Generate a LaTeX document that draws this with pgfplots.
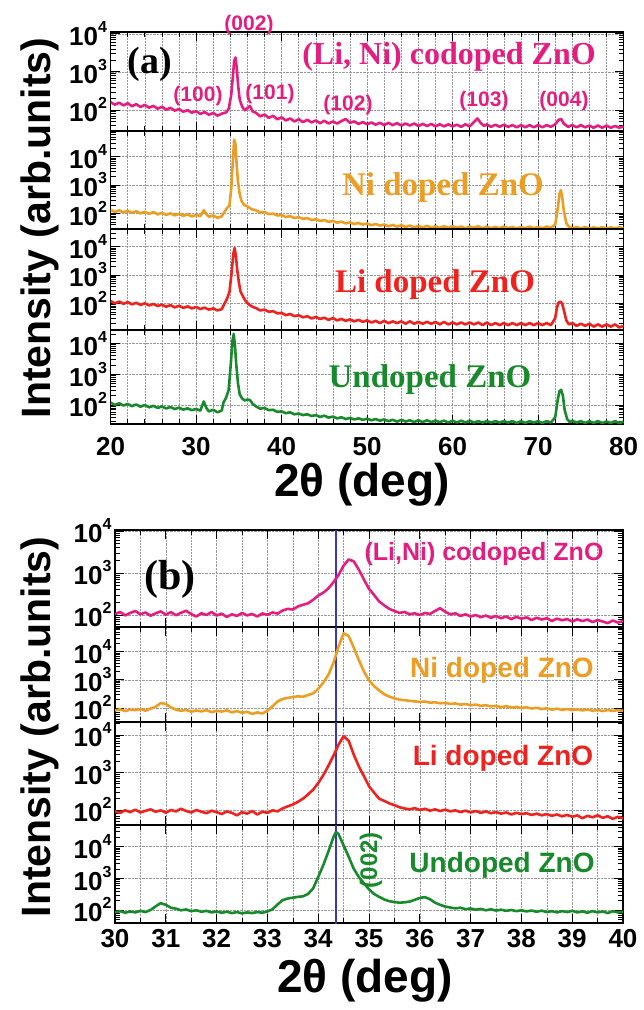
\documentclass[border=0pt]{standalone}
\usepackage{fontspec}
\setmainfont{Liberation Serif}
\setsansfont{Liberation Sans}
\usepackage{pgfplots}
\pgfplotsset{compat=1.18}

\definecolor{cmag}{RGB}{228,30,128}
\definecolor{corg}{RGB}{236,158,36}
\definecolor{cred}{RGB}{238,34,30}
\definecolor{cgrn}{RGB}{24,138,44}
\definecolor{cblu}{RGB}{55,55,190}

\newcommand\ticksf{\fontsize{26}{26}\selectfont\sffamily\bfseries}
\newcommand\expo[1]{\raisebox{0.5em}{\fontsize{16}{16}\selectfont #1}}

\pgfplotsset{
  xrdbase/.style={
    scale only axis, anchor=north west,
    axis line style={line width=1.1pt},
    tick align=inside, xtick pos=both, ytick pos=both,
    major tick length=9pt, minor tick length=5pt,
    tick style={black, line width=0.9pt},
    minor tick style={line width=0.6pt},
    xmajorgrids, xminorgrids, ymajorgrids,
    grid style={densely dotted, gray!80, line width=0.5pt},
    minor grid style={densely dotted, gray!80, line width=0.5pt},
    ytick={100,1000,10000},
    yticklabels={10\expo{2},10\expo{3},10\expo{4}},
    minor ytick={20,30,40,50,60,70,80,90,200,300,400,500,600,700,800,900,2000,3000,4000,5000,6000,7000,8000,9000,20000,30000,40000,50000,60000,70000,80000,90000},
    yticklabel style={font=\ticksf},
    xticklabel style={font=\ticksf},
    /pgf/number format/assume math mode=true,
  },
  panela/.style={xrdbase, width=513pt, xmin=20, xmax=80, xtick={20,30,...,80}, minor x tick num=4},
  panelb/.style={xrdbase, width=508pt, xmin=30, xmax=40, xtick={30,31,...,40}, minor x tick num=1},
  noxlab/.style={xticklabels={}},
}
\tikzset{trace/.style={line width=2.6pt, line join=round}}

\begin{document}
\begin{tikzpicture}[x=1pt,y=1pt]
\useasboundingbox (0,0) rectangle (643,-1010);

% ---------------- panel (a) ----------------
\begin{axis}[ymode=log, panela, noxlab, at={(110.6pt,-32pt)}, height=99pt, ymin=28, ymax=11200]
\addplot[trace, cmag] coordinates {
(20,160) (20.5,138) (21,155) (21.5,132) (22,150) (22.5,126) (23,142) (23.5,120) (24,136) (24.5,115)
(25,128) (25.5,108) (26,121) (26.5,102) (27,114) (27.5,96) (28,106) (28.5,90) (29,99) (29.5,85)
(30,93) (30.5,79) (31,88) (31.5,75) (32,83) (32.5,71) (33,80) (33.5,86) (33.8,105) (34.1,240)
(34.3,750) (34.45,1900) (34.6,2400) (34.75,1300) (34.9,480) (35.1,190) (35.4,120) (35.7,98) (36.0,112) (36.3,128)
(36.6,92) (37,84) (37.5,68) (38,76) (38.5,62) (39,70) (39.5,57) (40,64) (40.5,53) (41,60)
(41.5,50) (42,57) (42.5,48) (43,55) (43.5,47) (44,53) (44.5,45) (45,52) (45.5,44) (46,50)
(46.5,44) (47,51) (47.5,58) (48,46) (48.5,50) (49,43) (49.5,48) (50,42) (50.5,47) (51,41)
(51.5,46) (52,40) (52.5,46) (53,40) (53.5,45) (54,39) (54.5,44) (55,39) (55.5,44) (56,38)
(56.5,43) (57,38) (57.5,43) (58,37) (58.5,42) (59,37) (59.5,42) (60,37) (60.5,41) (61,36)
(61.5,42) (62,37) (62.5,48) (62.9,60) (63.3,45) (63.7,38) (64,42) (64.5,36) (65,41) (65.5,36)
(66,41) (66.5,36) (67,40) (67.5,35) (68,40) (68.5,35) (69,40) (69.5,35) (70,40) (70.5,35)
(71,40) (71.5,36) (72,42) (72.4,55) (72.7,58) (73.0,44) (73.5,36) (74,40) (74.5,35) (75,40)
(75.5,35) (76,39) (76.5,34) (77,39) (77.5,34) (78,39) (78.5,34) (79,38) (79.5,34) (80,37)};
\end{axis}

\begin{axis}[ymode=log, panela, noxlab, at={(110.6pt,-131pt)}, height=98pt, ymin=28, ymax=81000]
\addplot[trace, corg] coordinates {
(20,135) (20.5,112) (21,128) (21.5,108) (22,124) (22.5,104) (23,118) (23.5,100) (24,114) (24.5,96)
(25,110) (25.5,92) (26,104) (26.5,88) (27,100) (27.5,85) (28,96) (28.5,82) (29,92) (29.5,78)
(30,88) (30.5,80) (30.9,130) (31.2,95) (31.5,76) (32,84) (32.5,70) (33,78) (33.3,110) (33.6,150)
(33.9,190) (34.1,700) (34.3,7000) (34.45,40000) (34.6,28000) (34.75,5000) (34.9,1300) (35.1,480) (35.3,280) (35.6,200)
(36,175) (36.5,140) (37,128) (37.5,108) (38,112) (38.5,94) (39,98) (39.5,84) (40,88) (40.5,74)
(41,80) (41.5,68) (42,74) (42.5,64) (43,68) (43.5,58) (44,62) (44.5,54) (45,58) (45.5,50)
(46,54) (46.5,47) (47,51) (47.5,44) (48,48) (48.5,42) (49,46) (49.5,40) (50,44) (50.5,38)
(51,42) (51.5,37) (52,40) (52.5,35) (53,39) (53.5,34) (54,38) (54.5,33) (55,37) (55.5,32)
(56,36) (56.5,32) (57,36) (57.5,31) (58,35) (58.5,31) (59,35) (59.5,31) (60,35) (60.5,31)
(61,34) (61.5,30) (62,34) (62.5,31) (63,35) (63.5,30) (64,34) (64.5,30) (65,33) (65.5,30)
(66,34) (66.5,30) (67,33) (67.5,29) (68,33) (68.5,30) (69,34) (69.5,30) (70,33) (70.5,30)
(71,34) (71.5,31) (72,40) (72.3,150) (72.5,480) (72.65,660) (72.8,420) (73.0,130) (73.3,45) (73.6,34)
(74,30) (74.5,33) (75,29) (75.5,33) (76,29) (76.5,32) (77,29) (77.5,33) (78,29) (78.5,32)
(79,29) (79.5,32) (80,30)};
\end{axis}

\begin{axis}[ymode=log, panela, noxlab, at={(110.6pt,-229pt)}, height=101pt, ymin=11.4, ymax=42200]
\addplot[trace, cred] coordinates {
(20,120) (20.5,100) (21,115) (21.5,96) (22,110) (22.5,92) (23,104) (23.5,88) (24,100) (24.5,84)
(25,95) (25.5,80) (26,90) (26.5,76) (27,86) (27.5,72) (28,82) (28.5,69) (29,78) (29.5,66)
(30,74) (30.5,63) (31,70) (31.5,60) (32,66) (32.5,56) (33,62) (33.3,95) (33.6,140) (33.9,250)
(34.15,1200) (34.35,5500) (34.5,9000) (34.65,5000) (34.8,1600) (35.0,550) (35.2,260) (35.5,170) (35.8,120) (36.2,90)
(36.6,75) (37,68) (37.5,56) (38,60) (38.5,50) (39,53) (39.5,44) (40,46) (40.5,38) (41,42)
(41.5,35) (42,38) (42.5,32) (43,35) (43.5,29) (44,33) (44.5,28) (45,31) (45.5,26) (46,30)
(46.5,25) (47,28) (47.5,24) (48,27) (48.5,23) (49,26) (49.5,22) (50,25) (50.5,21) (51,24)
(51.5,20) (52,24) (52.5,20) (53,23) (53.5,20) (54,23) (54.5,19) (55,23) (55.5,19) (56,22)
(56.5,19) (57,22) (57.5,19) (58,22) (58.5,18) (59,22) (59.5,18) (60,21) (60.5,18) (61,21)
(61.5,18) (62,21) (62.5,18) (63,21) (63.5,17) (64,21) (64.5,17) (65,20) (65.5,17) (66,20)
(66.5,17) (67,20) (67.5,17) (68,20) (68.5,17) (69,20) (69.5,17) (70,20) (70.5,17) (71,20)
(71.5,17) (72,30) (72.2,70) (72.4,105) (72.6,115) (72.8,100) (73.0,60) (73.3,25) (73.6,18) (74,20)
(74.5,16) (75,19) (75.5,16) (76,19) (76.5,15) (77,18) (77.5,15) (78,18) (78.5,15) (79,18)
(79.5,14) (80,16)};
\end{axis}

\begin{axis}[ymode=log, panela, at={(110.6pt,-330pt)}, height=94pt, ymin=24.2, ymax=26900,
  xticklabel style={yshift=-10pt}]
\addplot[trace, cgrn] coordinates {
(20,120) (20.5,100) (21,114) (21.5,96) (22,108) (22.5,92) (23,104) (23.5,88) (24,100) (24.5,84)
(25,94) (25.5,80) (26,90) (26.5,77) (27,86) (27.5,74) (28,82) (28.5,71) (29,78) (29.5,68)
(30,74) (30.5,66) (30.9,130) (31.2,80) (31.5,62) (32,70) (32.5,58) (33,66) (33.2,120) (33.5,170)
(33.8,300) (34.05,2000) (34.25,12000) (34.4,20000) (34.55,8000) (34.7,2000) (34.9,500) (35.1,220) (35.4,160) (35.7,140)
(36.0,150) (36.3,145) (36.6,110) (37,90) (37.5,76) (38,80) (38.5,68) (39,70) (39.5,60) (40,62)
(40.5,54) (41,58) (41.5,50) (42,53) (42.5,47) (43,50) (43.5,44) (44,47) (44.5,41) (45,45)
(45.5,39) (46,42) (46.5,37) (47,40) (47.5,35) (48,38) (48.5,34) (49,37) (49.5,33) (50,36)
(50.5,32) (51,35) (51.5,31) (52,34) (52.5,30) (53,33) (53.5,29) (54,33) (54.5,29) (55,32)
(55.5,28) (56,32) (56.5,28) (57,32) (57.5,28) (58,31) (58.5,28) (59,31) (59.5,27) (60,31)
(60.5,27) (61,31) (61.5,27) (62,31) (62.5,27) (63,30) (63.5,27) (64,30) (64.5,27) (65,30)
(65.5,27) (66,30) (66.5,27) (67,30) (67.5,26) (68,30) (68.5,26) (69,30) (69.5,27) (70,30)
(70.5,26) (71,30) (71.5,27) (72,40) (72.3,150) (72.5,280) (72.7,310) (72.9,200) (73.1,70) (73.4,35)
(73.7,28) (74,31) (74.5,27) (75,30) (75.5,26) (76,30) (76.5,26) (77,30) (77.5,26) (78,29)
(78.5,26) (79,30) (79.5,26) (80,29)};
\end{axis}

% ---------------- panel (b) ----------------
\begin{axis}[ymode=log, panelb, noxlab, at={(115pt,-530pt)}, height=97pt, ymin=51.8, ymax=10570]
\addplot[cblu, line width=2.4pt] coordinates {(34.35,1) (34.35,1e6)};
\addplot[trace, cmag] coordinates {
(30.0,105) (30.1,118) (30.2,98) (30.3,112) (30.4,125) (30.5,104) (30.6,115) (30.7,96) (30.8,110) (30.9,122)
(31.0,102) (31.1,117) (31.2,99) (31.3,113) (31.4,126) (31.5,105) (31.6,92) (31.7,110) (31.8,100) (31.9,118)
(32.0,97) (32.1,108) (32.2,90) (32.3,104) (32.4,95) (32.5,112) (32.6,98) (32.7,106) (32.8,92) (32.9,109)
(33.0,101) (33.1,115) (33.2,108) (33.3,128) (33.4,140) (33.5,135) (33.6,160) (33.7,175) (33.8,190) (33.9,230)
(34.0,290) (34.1,340) (34.2,430) (34.3,600) (34.4,900) (34.5,1500) (34.6,2100) (34.7,1900) (34.8,1200) (34.9,700)
(35.0,420) (35.1,300) (35.2,210) (35.3,170) (35.4,140) (35.5,125) (35.6,112) (35.7,118) (35.8,104) (35.9,110)
(36.0,100) (36.1,112) (36.2,106) (36.3,125) (36.4,145) (36.5,120) (36.6,104) (36.7,110) (36.8,95) (36.9,104)
(37.0,92) (37.1,100) (37.2,89) (37.3,97) (37.4,86) (37.5,94) (37.6,84) (37.7,92) (37.8,80) (37.9,90)
(38.0,82) (38.1,88) (38.2,76) (38.3,86) (38.4,78) (38.5,84) (38.6,72) (38.7,82) (38.8,75) (38.9,80)
(39.0,70) (39.1,79) (39.2,72) (39.3,78) (39.4,68) (39.5,76) (39.6,70) (39.7,64) (39.8,74) (39.9,66)
(40.0,72)};
\end{axis}

\begin{axis}[ymode=log, panelb, noxlab, at={(115pt,-627pt)}, height=95pt, ymin=31.9, ymax=75300]
\addplot[cblu, line width=2.4pt] coordinates {(34.35,1) (34.35,1e6)};
\addplot[trace, corg] coordinates {
(30.0,82) (30.1,90) (30.2,78) (30.3,88) (30.4,84) (30.5,92) (30.6,80) (30.7,95) (30.8,110) (30.9,150)
(31.0,140) (31.1,105) (31.2,88) (31.3,80) (31.4,86) (31.5,74) (31.6,82) (31.7,76) (31.8,84) (31.9,72)
(32.0,80) (32.1,75) (32.2,83) (32.3,70) (32.4,78) (32.5,68) (32.6,74) (32.7,62) (32.8,70) (32.9,64)
(33.0,80) (33.1,115) (33.2,170) (33.3,210) (33.4,230) (33.5,245) (33.6,260) (33.7,250) (33.8,290) (33.9,330)
(34.0,480) (34.1,800) (34.2,1500) (34.3,4000) (34.4,15000) (34.5,45000) (34.6,36000) (34.7,14000) (34.8,5000) (34.9,2000)
(35.0,950) (35.1,600) (35.2,420) (35.3,310) (35.4,255) (35.5,220) (35.6,200) (35.7,190) (35.8,180) (35.9,172)
(36.0,165) (36.1,170) (36.2,155) (36.3,160) (36.4,148) (36.5,152) (36.6,140) (36.7,146) (36.8,132) (36.9,138)
(37.0,126) (37.1,132) (37.2,120) (37.3,126) (37.4,114) (37.5,120) (37.6,108) (37.7,116) (37.8,104) (37.9,110)
(38.0,100) (38.1,106) (38.2,96) (38.3,102) (38.4,92) (38.5,98) (38.6,88) (38.7,95) (38.8,86) (38.9,92)
(39.0,84) (39.1,90) (39.2,82) (39.3,88) (39.4,80) (39.5,86) (39.6,78) (39.7,85) (39.8,79) (39.9,84)
(40.0,80)};
\end{axis}

\begin{axis}[ymode=log, panelb, noxlab, at={(115pt,-722pt)}, height=103pt, ymin=39.8, ymax=22200]
\addplot[cblu, line width=2.4pt] coordinates {(34.35,1) (34.35,1e6)};
\addplot[trace, cred] coordinates {
(30.0,92) (30.1,84) (30.2,98) (30.3,88) (30.4,102) (30.5,86) (30.6,95) (30.7,104) (30.8,90) (30.9,98)
(31.0,85) (31.1,100) (31.2,92) (31.3,108) (31.4,94) (31.5,86) (31.6,100) (31.7,90) (31.8,82) (31.9,96)
(32.0,88) (32.1,78) (32.2,92) (32.3,84) (32.4,72) (32.5,88) (32.6,80) (32.7,94) (32.8,76) (32.9,90)
(33.0,84) (33.1,98) (33.2,92) (33.3,110) (33.4,125) (33.5,140) (33.6,165) (33.7,200) (33.8,260) (33.9,350)
(34.0,520) (34.1,850) (34.2,1500) (34.3,2800) (34.4,5500) (34.5,9300) (34.6,7000) (34.7,3000) (34.8,1450) (34.9,800)
(35.0,430) (35.1,290) (35.2,200) (35.3,175) (35.4,150) (35.5,135) (35.6,118) (35.7,110) (35.8,104) (35.9,112)
(36.0,100) (36.1,108) (36.2,96) (36.3,104) (36.4,94) (36.5,102) (36.6,92) (36.7,98) (36.8,88) (36.9,96)
(37.0,86) (37.1,94) (37.2,84) (37.3,92) (37.4,82) (37.5,88) (37.6,80) (37.7,86) (37.8,76) (37.9,84)
(38.0,78) (38.1,82) (38.2,74) (38.3,80) (38.4,72) (38.5,78) (38.6,70) (38.7,76) (38.8,68) (38.9,74)
(39.0,66) (39.1,72) (39.2,60) (39.3,70) (39.4,64) (39.5,72) (39.6,62) (39.7,68) (39.8,58) (39.9,66)
(40.0,60)};
\end{axis}

\begin{axis}[ymode=log, panelb, at={(115pt,-825pt)}, height=98pt, ymin=38.8, ymax=48400,
  xticklabel style={yshift=-3pt}]
\addplot[cblu, line width=2.4pt] coordinates {(34.35,1) (34.35,1e6)};
\addplot[trace, cgrn] coordinates {
(30.0,85) (30.1,92) (30.2,82) (30.3,90) (30.4,84) (30.5,94) (30.6,86) (30.7,100) (30.8,130) (30.9,165)
(31.0,145) (31.1,118) (31.2,110) (31.3,98) (31.4,104) (31.5,92) (31.6,98) (31.7,88) (31.8,94) (31.9,84)
(32.0,90) (32.1,82) (32.2,88) (32.3,80) (32.4,86) (32.5,78) (32.6,84) (32.7,80) (32.8,86) (32.9,82)
(33.0,90) (33.1,105) (33.2,150) (33.3,205) (33.4,230) (33.5,245) (33.6,260) (33.7,270) (33.8,320) (33.9,480)
(34.0,1100) (34.1,2600) (34.2,7000) (34.3,20000) (34.35,29000) (34.4,25000) (34.5,11000) (34.6,4800) (34.7,2000) (34.8,1100)
(34.9,700) (35.0,450) (35.1,320) (35.2,260) (35.3,215) (35.4,190) (35.5,178) (35.6,170) (35.7,175) (35.8,185)
(35.9,210) (36.0,240) (36.1,255) (36.2,220) (36.3,170) (36.4,145) (36.5,128) (36.6,120) (36.7,112) (36.8,118)
(36.9,106) (37.0,112) (37.1,102) (37.2,108) (37.3,98) (37.4,105) (37.5,96) (37.6,102) (37.7,94) (37.8,100)
(37.9,92) (38.0,98) (38.1,90) (38.2,96) (38.3,88) (38.4,95) (38.5,86) (38.6,92) (38.7,84) (38.8,92)
(38.9,86) (39.0,94) (39.1,84) (39.2,90) (39.3,82) (39.4,92) (39.5,84) (39.6,90) (39.7,80) (39.8,92)
(39.9,84) (40.0,88)};
\end{axis}

% ---------------- labels ----------------
\tikzset{big/.style={font=\fontsize{41}{41}\selectfont\sffamily\bfseries}}
\node[big, rotate=90, anchor=base] at (50,-228) {Intensity (arb.units)};
\node[big, rotate=90, anchor=base] at (50,-727) {Intensity (arb.units)};
\node[font=\fontsize{46}{46}\selectfont\sffamily\bfseries, anchor=base] at (362,-496) {2θ (deg)};
\node[font=\fontsize{46}{46}\selectfont\sffamily\bfseries, anchor=base] at (365,-992) {2θ (deg)};

\node[font=\fontsize{38}{38}\selectfont\rmfamily\bfseries] at (150,-64) {(a)};
\node[font=\fontsize{42}{42}\selectfont\rmfamily\bfseries] at (170,-579) {(b)};

\tikzset{hkl/.style={font=\fontsize{21}{21}\selectfont\sffamily\bfseries, text=cmag}}
\node[hkl] at (249,-25) {(002)};
\node[hkl] at (198,-96) {(100)};
\node[hkl] at (270,-94) {(101)};
\node[hkl] at (348,-105) {(102)};
\node[hkl] at (484,-101) {(103)};
\node[hkl] at (564,-101) {(004)};

\tikzset{rl/.style={font=\fontsize{33}{33}\selectfont\rmfamily\bfseries, anchor=base}}
\node[rl, text=cmag, font=\fontsize{32}{32}\selectfont\rmfamily\bfseries] at (449,-64) {(Li, Ni) codoped ZnO};
\node[rl, text=corg] at (443,-195) {Ni doped ZnO};
\node[rl, text=cred] at (435,-292) {Li doped ZnO};
\node[rl, text=cgrn] at (430,-387) {Undoped ZnO};

\tikzset{sl/.style={font=\fontsize{28}{28}\selectfont\sffamily\bfseries, anchor=base}}
\node[sl, text=cmag, font=\fontsize{25}{25}\selectfont\sffamily\bfseries] at (484,-560) {(Li,Ni) codoped ZnO};
\node[sl, text=corg] at (502,-677) {Ni doped ZnO};
\node[sl, text=cred] at (503,-765) {Li doped ZnO};
\node[sl, text=cgrn] at (502,-872) {Undoped ZnO};
\node[font=\fontsize{24}{24}\selectfont\sffamily\bfseries, text=cgrn, rotate=90] at (371,-860) {(002)};
\end{tikzpicture}
\end{document}
